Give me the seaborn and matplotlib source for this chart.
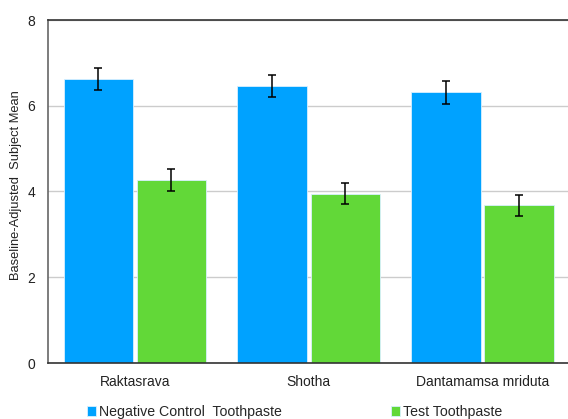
import matplotlib
matplotlib.use("Agg")
import matplotlib.pyplot as plt
import seaborn as sns
import pandas as pd

categories = ["Raktasrava", "Shotha", "Dantamamsa mriduta"]
groups = ["Negative Control  Toothpaste", "Test Toothpaste"]
control_means = [6.62, 6.46, 6.31]
control_err = [0.25, 0.25, 0.26]
test_means = [4.27, 3.95, 3.68]
test_err = [0.25, 0.25, 0.25]
palette = ["#00A2FF", "#62D838"]

df = pd.DataFrame({
    "symptom": categories * 2,
    "group": [groups[0]] * 3 + [groups[1]] * 3,
    "mean": control_means + test_means,
})

sns.set_theme(style="white")
plt.rcParams["font.family"] = ["Liberation Sans", "DejaVu Sans"]

fig = plt.figure(figsize=(5.68, 4.19), dpi=100)
ax = fig.add_axes([48 / 568, 1 - 363 / 419, 1 - 48 / 568, (363 - 20) / 419])

sns.barplot(data=df, x="symptom", y="mean", hue="group", order=categories,
            hue_order=groups, palette=palette, saturation=1, width=0.84,
            gap=0.045, errorbar=None, edgecolor="#d8f0ff", linewidth=0.6,
            ax=ax, legend=True)

# error bars centred on each bar
errs = control_err + test_err
bars = [p for p in ax.patches if p.get_height() > 0][:6]
for bar, e in zip(bars, errs):
    xc = bar.get_x() + bar.get_width() / 2
    ax.errorbar(xc, bar.get_height(), yerr=e, fmt="none", ecolor="black",
                elinewidth=1.1, capsize=3.0, capthick=1.1, zorder=5)

ax.set_ylim(0, 8)
ax.set_yticks([0, 2, 4, 6, 8])
ax.set_xlim(-0.5, 2.49)
ax.yaxis.grid(True, color="#cccccc", linewidth=1)
ax.set_axisbelow(True)
ax.set_xlabel("")
ax.set_ylabel("Baseline-Adjusted  Subject Mean", fontsize=9.3, color="#222222")
ax.yaxis.set_label_coords(-0.05, 0.52)
ax.tick_params(axis="both", length=0, labelsize=10, colors="#222222")
ax.tick_params(axis="y", pad=9.4)
ax.tick_params(axis="x", pad=8.5)

for side in ["left", "bottom", "top"]:
    ax.spines[side].set_visible(True)
    ax.spines[side].set_linewidth(1.2)
ax.spines["left"].set_color("#666666")
ax.spines["bottom"].set_color("#333333")
ax.spines["top"].set_color("#333333")
ax.spines["right"].set_visible(False)

handles, labels = ax.get_legend_handles_labels()
ax.get_legend().remove()
fig.legend(handles, labels, loc="center left", bbox_to_anchor=(87 / 568, 1 - 412 / 419),
           ncol=2, frameon=False, fontsize=10.2, handlelength=0.62, handleheight=0.62,
           handletextpad=0.2, columnspacing=7.75, borderaxespad=0, borderpad=0)

fig.savefig("out.png", dpi=100)
